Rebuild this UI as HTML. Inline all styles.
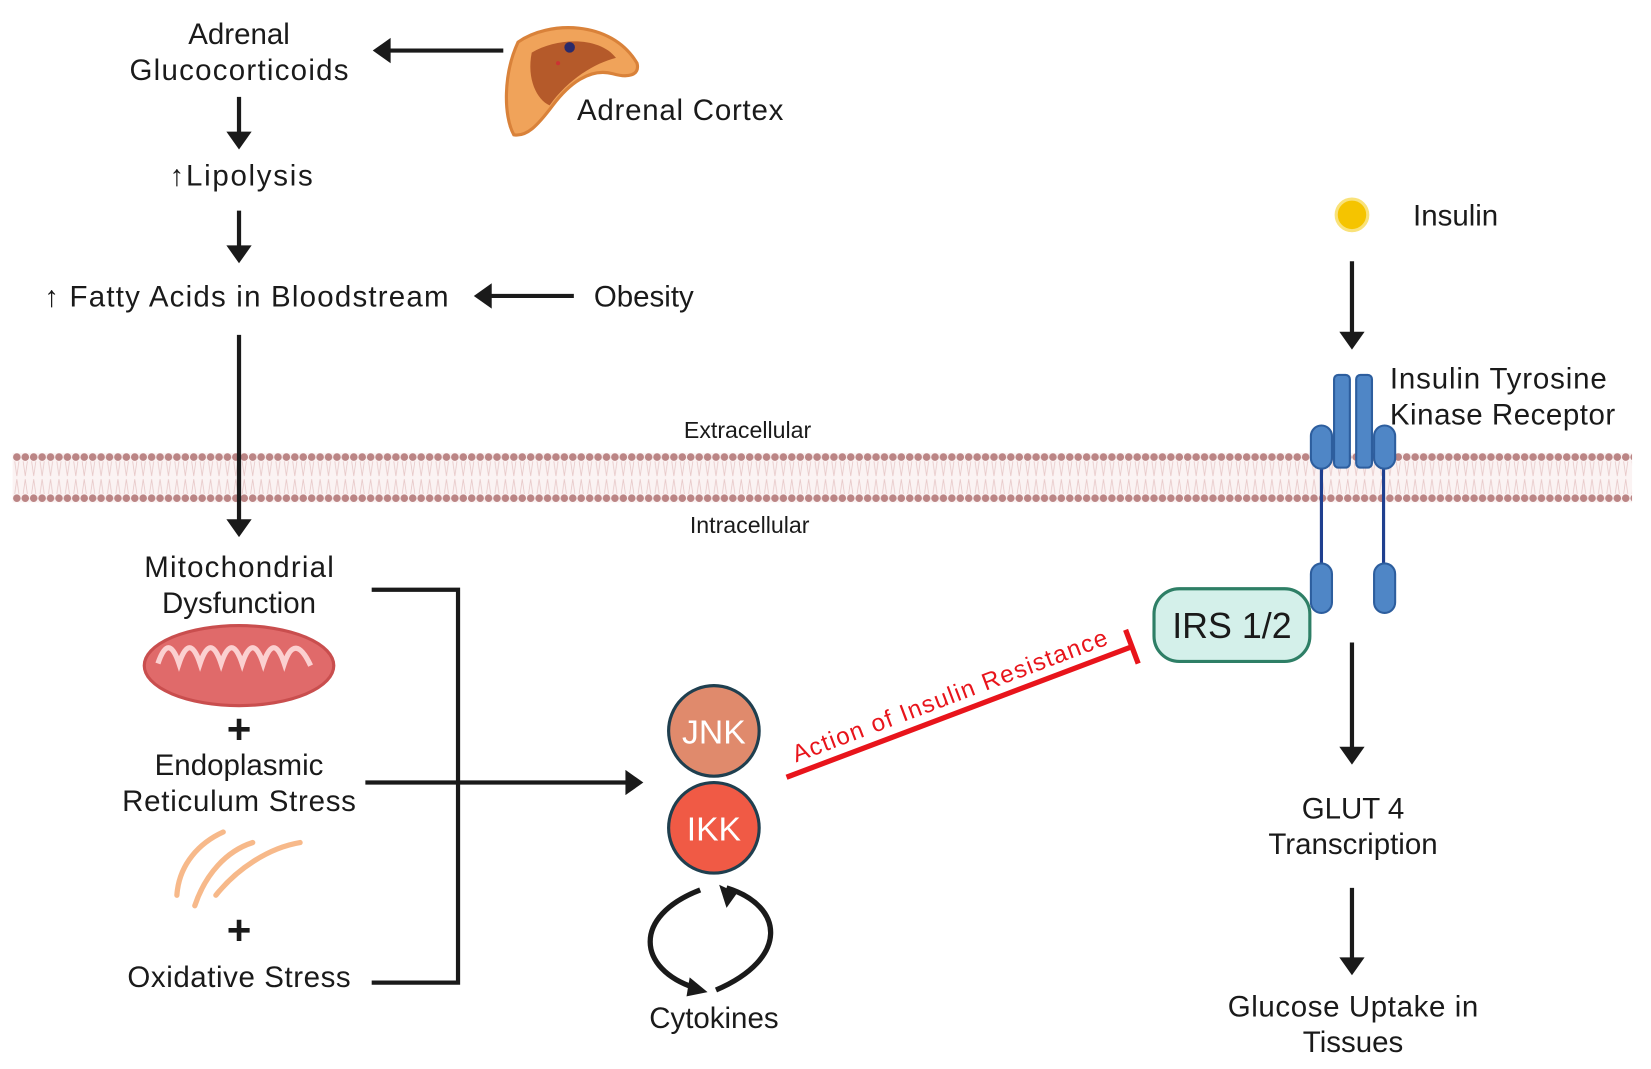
<!DOCTYPE html>
<html><head><meta charset="utf-8"><style>
html,body{margin:0;padding:0;background:#fff;}
svg{display:block;}
text{font-family:"Liberation Sans",sans-serif;fill:#1a1a1a;}
</style></head><body>
<svg width="1651" height="1069" viewBox="0 0 1568 1015" preserveAspectRatio="none" xmlns="http://www.w3.org/2000/svg">
<defs>
<pattern id="dots" x="12" y="0" width="8" height="1015" patternUnits="userSpaceOnUse">
<circle cx="4" cy="434" r="3.6" fill="#bb8585"/>
<circle cx="4" cy="473" r="3.6" fill="#bb8585"/>
<path d="M2,438 L4,452 L6,438 M2,469 L4,455 L6,469" stroke="#e8caca" stroke-width="0.8" fill="none"/>
</pattern>
</defs>
<!-- membrane -->
<rect x="12" y="430" width="1538" height="47" fill="#fbf3f3"/>
<rect x="12" y="430" width="1538" height="47" fill="url(#dots)"/>
<text x="710" y="416" font-size="22" text-anchor="middle">Extracellular</text>
<text x="712" y="506" font-size="22" text-anchor="middle">Intracellular</text>

<g font-size="28" text-anchor="middle">
<text x="227" y="42">Adrenal</text>
<text x="227" y="76" textLength="208">Glucocorticoids</text>
<text x="229" y="176" textLength="136">↑Lipolysis</text>
<text x="234" y="291" textLength="384">↑ Fatty Acids in Bloodstream</text>
<text x="227" y="548" textLength="180">Mitochondrial</text>
<text x="227" y="582">Dysfunction</text>
<text x="227" y="736">Endoplasmic</text>
<text x="227" y="770" textLength="222">Reticulum Stress</text>
<text x="227" y="937" textLength="212">Oxidative Stress</text>
<text x="678" y="976">Cytokines</text>
<text x="1285" y="777">GLUT 4</text>
<text x="1285" y="811">Transcription</text>
<text x="1285" y="965" textLength="238">Glucose Uptake in</text>
<text x="1285" y="999">Tissues</text>
</g>
<g font-size="28">
<text x="548" y="114" textLength="196">Adrenal Cortex</text>
<text x="564" y="291">Obesity</text>
<text x="1342" y="214">Insulin</text>
<text x="1320" y="369" textLength="206">Insulin Tyrosine</text>
<text x="1320" y="403" textLength="214">Kinase Receptor</text>
</g>
<text x="227" y="706" font-size="40" font-weight="bold" text-anchor="middle">+</text>
<text x="227" y="897" font-size="40" font-weight="bold" text-anchor="middle">+</text>

<!-- arrows -->
<g stroke="#1a1a1a" stroke-width="4" fill="#1a1a1a">
<line x1="478" y1="48" x2="366" y2="48"/><path d="M354,48 L371,36 L371,60Z" stroke="none"/>
<line x1="227" y1="92" x2="227" y2="128"/><path d="M227,142 L215,125 L239,125Z" stroke="none"/>
<line x1="227" y1="200" x2="227" y2="236"/><path d="M227,250 L215,233 L239,233Z" stroke="none"/>
<line x1="545" y1="281" x2="462" y2="281"/><path d="M450,281 L467,269 L467,293Z" stroke="none"/>
<line x1="227" y1="318" x2="227" y2="496"/><path d="M227,510 L215,493 L239,493Z" stroke="none"/>
<line x1="1284" y1="248" x2="1284" y2="318"/><path d="M1284,332 L1272,315 L1296,315Z" stroke="none"/>
<line x1="1284" y1="610" x2="1284" y2="712"/><path d="M1284,726 L1272,709 L1296,709Z" stroke="none"/>
<line x1="1284" y1="843" x2="1284" y2="912"/><path d="M1284,926 L1272,909 L1296,909Z" stroke="none"/>
<polyline points="353,560 435,560 435,933 353,933" fill="none"/>
<line x1="347" y1="743" x2="596" y2="743"/><path d="M611,743 L594,731 L594,755Z" stroke="none"/>
</g>

<!-- adrenal cortex -->
<path d="M492,40 C520,20 580,18 605,60 C608,72 596,74 582,70 C560,64 540,80 525,100 C510,120 500,130 488,128 C478,110 478,70 492,40Z" fill="#f0a35a" stroke="#d9823a" stroke-width="3"/>
<path d="M505,50 C530,35 570,35 585,55 C565,60 540,75 522,100 C510,95 500,75 505,50Z" fill="#b55a2a"/>
<circle cx="541" cy="45" r="5" fill="#2a2a6a"/>
<circle cx="530" cy="60" r="2" fill="#c33"/>

<!-- insulin -->
<circle cx="1284" cy="204" r="15" fill="#f5c400" stroke="#f9e27a" stroke-width="3"/>

<!-- receptor -->
<g fill="#4f86c6" stroke="#2d5e9e" stroke-width="2">
<line x1="1255" y1="440" x2="1255" y2="540" stroke="#1f3f8f" stroke-width="3"/>
<line x1="1314" y1="440" x2="1314" y2="540" stroke="#1f3f8f" stroke-width="3"/>
<rect x="1267" y="356" width="15" height="88" rx="4"/>
<rect x="1288" y="356" width="15" height="88" rx="4"/>
<rect x="1245" y="404" width="20" height="41" rx="10"/>
<rect x="1305" y="404" width="20" height="41" rx="10"/>
<rect x="1245" y="535" width="20" height="47" rx="10"/>
<rect x="1305" y="535" width="20" height="47" rx="10"/>
</g>

<!-- IRS -->
<rect x="1096" y="559" width="148" height="69" rx="24" fill="#d4f0ea" stroke="#2e7f66" stroke-width="3"/>
<text x="1170" y="606" font-size="34" text-anchor="middle">IRS 1/2</text>

<!-- mitochondria -->
<ellipse cx="227" cy="632" rx="90" ry="38" fill="#e06a6a" stroke="#c94e4e" stroke-width="3"/>
<path d="M150,630 Q160,600 170,630 Q180,600 190,630 Q200,600 210,630 Q220,600 230,630 Q240,600 250,630 Q260,600 270,630 Q280,600 295,632" fill="none" stroke="#fbd0d0" stroke-width="5"/>

<!-- ER -->
<g fill="none" stroke="#f7b98a" stroke-width="5" stroke-linecap="round">
<path d="M212,790 C190,800 170,820 168,850"/>
<path d="M240,800 C215,808 195,830 185,860"/>
<path d="M285,800 C255,805 225,825 205,850"/>
</g>

<!-- JNK IKK -->
<circle cx="678" cy="694" r="43" fill="#e08a6c" stroke="#1f3f4f" stroke-width="3"/>
<circle cx="678" cy="786" r="43" fill="#f05a45" stroke="#1f3f4f" stroke-width="3"/>
<text x="678" y="706" font-size="32" text-anchor="middle" style="fill:#fff">JNK</text>
<text x="678" y="798" font-size="32" text-anchor="middle" style="fill:#fff">IKK</text>

<!-- cycle -->
<g fill="none" stroke="#1a1a1a" stroke-width="5">
<path d="M665,845 C600,870 605,920 660,938"/>
<path d="M680,940 C750,910 745,860 690,843"/>
</g>
<path d="M672,942 L655,928 L652,946Z" fill="#1a1a1a"/>
<path d="M683,840 L700,848 L690,862Z" fill="#1a1a1a"/>

<!-- inhibition -->
<line x1="747" y1="738" x2="1075" y2="614" stroke="#e8141b" stroke-width="5"/>
<line x1="1069" y1="598" x2="1081" y2="630" stroke="#e8141b" stroke-width="5"/>
<text x="0" y="0" font-size="23" textLength="318" transform="translate(756,724) rotate(-20.7)" style="fill:#e8141b">Action of Insulin Resistance</text>
</svg>
</body></html>
